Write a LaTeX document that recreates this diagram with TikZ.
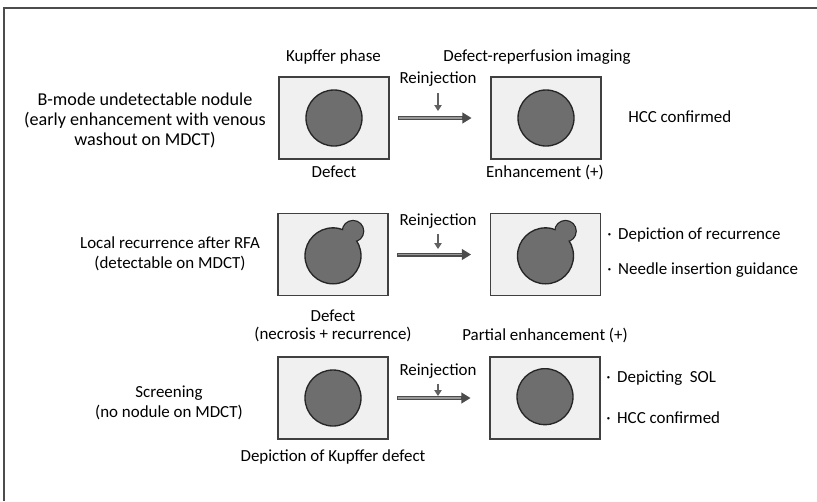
\documentclass[tikz,border=0pt]{standalone}
\usepackage{fontspec}
\setmainfont{Carlito}
\usetikzlibrary{arrows.meta}

\begin{document}
\begin{tikzpicture}[x=0.75pt,y=-0.75pt,
  every node/.style={font=\fontsize{12.7}{15}\selectfont, inner sep=0pt, align=center},
  bigtext/.style={font=\fontsize{13.6}{15}\selectfont},
  tighttext/.style={font=\fontsize{12.7}{13.5}\selectfont},
  frameline/.style={draw=black!70, line width=0.9pt},
  panel/.style={draw=black!75, line width=1.1pt, fill=black!6,
    minimum width=82.5pt, minimum height=61.5pt},
  lesion/.style={circle, draw=black!85, line width=1pt, fill=black!57, minimum size=42pt},
  bump/.style={circle, draw=black!85, line width=1pt, fill=black!57, minimum size=16pt},
  flow/.style={draw=black!70, line width=3pt, -{Triangle[length=7pt,width=8pt]},
    shorten <=6.5pt, shorten >=14pt},
  flowcore/.style={draw=black!40, line width=1.1pt, shorten <=7.2pt, shorten >=21pt},
  inject/.style={draw=black!62, line width=1.5pt, -{Triangle[length=4.5pt,width=5.5pt]}},
]
\useasboundingbox (0,0) rectangle (817,501);

% open frame: top and left edges only
\coordinate (fTL) at (4,8);
\coordinate (fTR) at (817,8);
\coordinate (fBL) at (4,501);
\draw[frameline] (fBL) -- (fTL) -- (fTR);

% column headings
\node (hKupffer) at (333.5,57) {Kupffer phase};
\node (hReperf) at (537,57) {Defect-reperfusion imaging};

% ---------- row 1 ----------
\node[bigtext] (t1) at (145,120) {B-mode undetectable nodule\\(early enhancement with venous\\washout on MDCT)};
\node[panel] (a1) at (334,118) {};
\node[panel] (b1) at (546,118) {};
\node[lesion] (la1) at (a1.center) {};
\node[lesion] (lb1) at (b1.center) {};
\draw[flow] (a1) -- (b1);
\draw[flowcore] (a1) -- (b1);
\node (r1) at (438,79) {Reinjection};
\coordinate (r1tip) at (438,111);
\draw[inject] ([yshift=-5pt]r1.south) -- (r1tip);
\node (d1) at (334,172) {Defect};
\node (e1) at (545,172) {Enhancement (+)};
\node[anchor=west] (c1) at (628,117) {HCC confirmed};

% ---------- row 2 ----------
\node (t2) at (170,254) {Local recurrence after RFA\\(detectable on MDCT)};
\node[panel] (a2) at (333,254.5) {};
\node[panel] (b2) at (545.5,254.5) {};
\node[bump] (ka2) at ([xshift=15pt,yshift=17.5pt]a2.center) {};
\node[bump] (kb2) at ([xshift=15pt,yshift=17.5pt]b2.center) {};
\node[lesion] (la2) at ([yshift=-1pt]a2.center) {};
\node[lesion] (lb2) at ([yshift=-1pt]b2.center) {};
% merge the nodule and its bump into one outline
\fill[black!57] (ka2.center) circle (7.5pt);
\fill[black!57] (kb2.center) circle (7.5pt);
\draw[flow] (a2) -- (b2);
\draw[flowcore] (a2) -- (b2);
\node (r2) at (438,221) {Reinjection};
\coordinate (r2tip) at (438,249);
\draw[inject] ([yshift=-4pt]r2.south) -- (r2tip);
\node[tighttext] (d2) at (333,326) {Defect\\(necrosis + recurrence)};
\node (e2) at (545,335) {Partial enhancement (+)};
\node[anchor=west] (c2a) at (607,235) {·\hspace{5pt}Depiction of recurrence};
\node[anchor=west] (c2b) at (607,270) {·\hspace{5pt}Needle insertion guidance};

% ---------- row 3 ----------
\node (t3) at (169,403) {Screening\\(no nodule on MDCT)};
\node[panel] (a3) at (333,398) {};
\node[panel] (b3) at (545,398) {};
\node[lesion] (la3) at (a3.center) {};
\node[lesion] (lb3) at ([yshift=1pt]b3.center) {};
\draw[flow] (a3) -- (b3);
\draw[flowcore] (a3) -- (b3);
\node (r3) at (438,371) {Reinjection};
\coordinate (r3tip) at (438,396);
\draw[inject] ([yshift=-4pt]r3.south) -- (r3tip);
\node (d3) at (333,457) {Depiction of Kupffer defect};
\node[anchor=west] (c3a) at (606,378) {·\hspace{5pt}Depicting\ \ SOL};
\node[anchor=west] (c3b) at (606,418) {·\hspace{5pt}HCC confirmed};
\end{tikzpicture}
\end{document}
